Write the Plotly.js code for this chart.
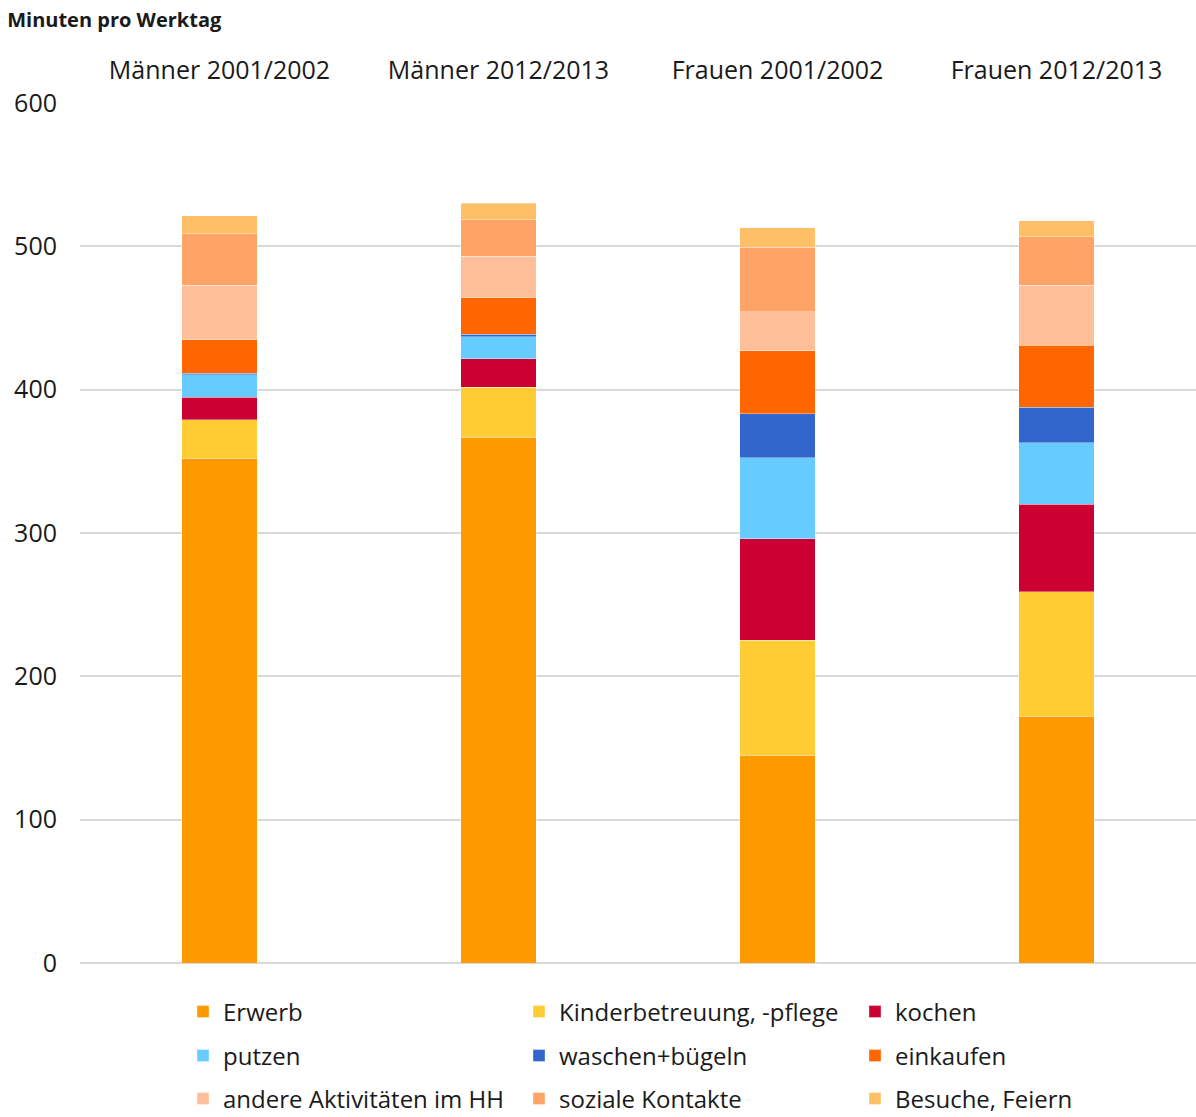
<!DOCTYPE html>
<html><head><meta charset="utf-8">
<script src="https://cdn.plot.ly/plotly-3.0.1.min.js"></script>
<style>body{margin:0;background:#fff}#chart{width:1196px;height:1117px}</style>
</head><body><div id="chart"></div>
<script>
const categories = ["Männer 2001/2002", "Männer 2012/2013", "Frauen 2001/2002", "Frauen 2012/2013"];
const erwerb      = [352.2, 366.9, 144.8, 172.0];
const kinder      = [26.9, 34.9, 80.3, 86.9];
const kochen      = [15.7, 19.8, 70.9, 61.0];
const putzen      = [15.7, 15.4, 56.5, 43.1];
const waschen     = [1.1, 1.8, 30.7, 24.8];
const einkaufen   = [23.3, 25.2, 43.8, 43.1];
const andere      = [37.9, 29.1, 27.2, 41.9];
const soziale     = [35.9, 25.6, 45.0, 33.8];
const besuche     = [12.5, 11.2, 13.9, 11.4];
const seriesNames = ["Erwerb", "Kinderbetreuung, -pflege", "kochen", "putzen", "waschen+bügeln", "einkaufen", "andere Aktivitäten im HH", "soziale Kontakte", "Besuche, Feiern"];
const seriesValues = [erwerb, kinder, kochen, putzen, waschen, einkaufen, andere, soziale, besuche];
const colors = ["#FF9900", "#FFCC33", "#CC0033", "#66CCFF", "#3366CC", "#FF6600", "#FFBF99", "#FFA366", "#FFBF66"];
const yTicks = [0, 100, 200, 300, 400, 500, 600];

const FONT = "Open Sans, Liberation Sans, sans-serif";
const legendIds = ['legend', 'legend2', 'legend3'];
const traces = seriesNames.map((n, i) => ({
  type: 'bar', name: n, x: categories, y: seriesValues[i],
  legend: legendIds[Math.floor(i / 3)],
  marker: {color: colors[i], line: {color: 'rgba(255,255,255,0.6)', width: 0.6}},
  hoverinfo: 'skip'
}));

function leg(yPix) {
  return {orientation: 'h', traceorder: 'normal', xref: 'container', yref: 'container',
          x: 183 / 1196, xanchor: 'left', y: 1 - yPix / 1117, yanchor: 'middle',
          entrywidth: 291, entrywidthmode: 'pixels', itemwidth: 30,
          font: {size: 24, family: FONT, color: '#1a1a1a'}, bgcolor: 'rgba(0,0,0,0)'};
}

const layout = {
  width: 1196, height: 1117,
  margin: {l: 80, r: 0, t: 103, b: 154, autoexpand: false},
  paper_bgcolor: '#fff', plot_bgcolor: '#fff',
  barmode: 'stack', bargap: 0.73,
  font: {family: FONT, color: '#1a1a1a', size: 24},
  title: {text: '<b>Minuten pro Werktag</b>', font: {size: 20, family: FONT, color: '#1a1a1a'},
          xref: 'container', yref: 'container', x: 0.006, xanchor: 'left', y: 1 - 20 / 1117, yanchor: 'middle'},
  xaxis: {side: 'top', showline: false, ticks: '', showgrid: false, zeroline: false,
          tickfont: {size: 25, family: FONT, color: '#1a1a1a'}, ticklabelstandoff: 18},
  yaxis: {range: [0, 600], tickvals: yTicks, ticktext: yTicks.map(String), showgrid: true,
          gridcolor: '#d9d9d9', gridwidth: 2, zeroline: true, zerolinecolor: '#d9d9d9', zerolinewidth: 2,
          showline: false, ticks: '', tickfont: {size: 25, family: FONT, color: '#1a1a1a'}, ticklabelstandoff: 22},
  showlegend: true,
  legend: leg(1012), legend2: leg(1056), legend3: leg(1099)
};
Plotly.newPlot('chart', traces, layout, {displayModeBar: false, staticPlot: true});
</script></body></html>
